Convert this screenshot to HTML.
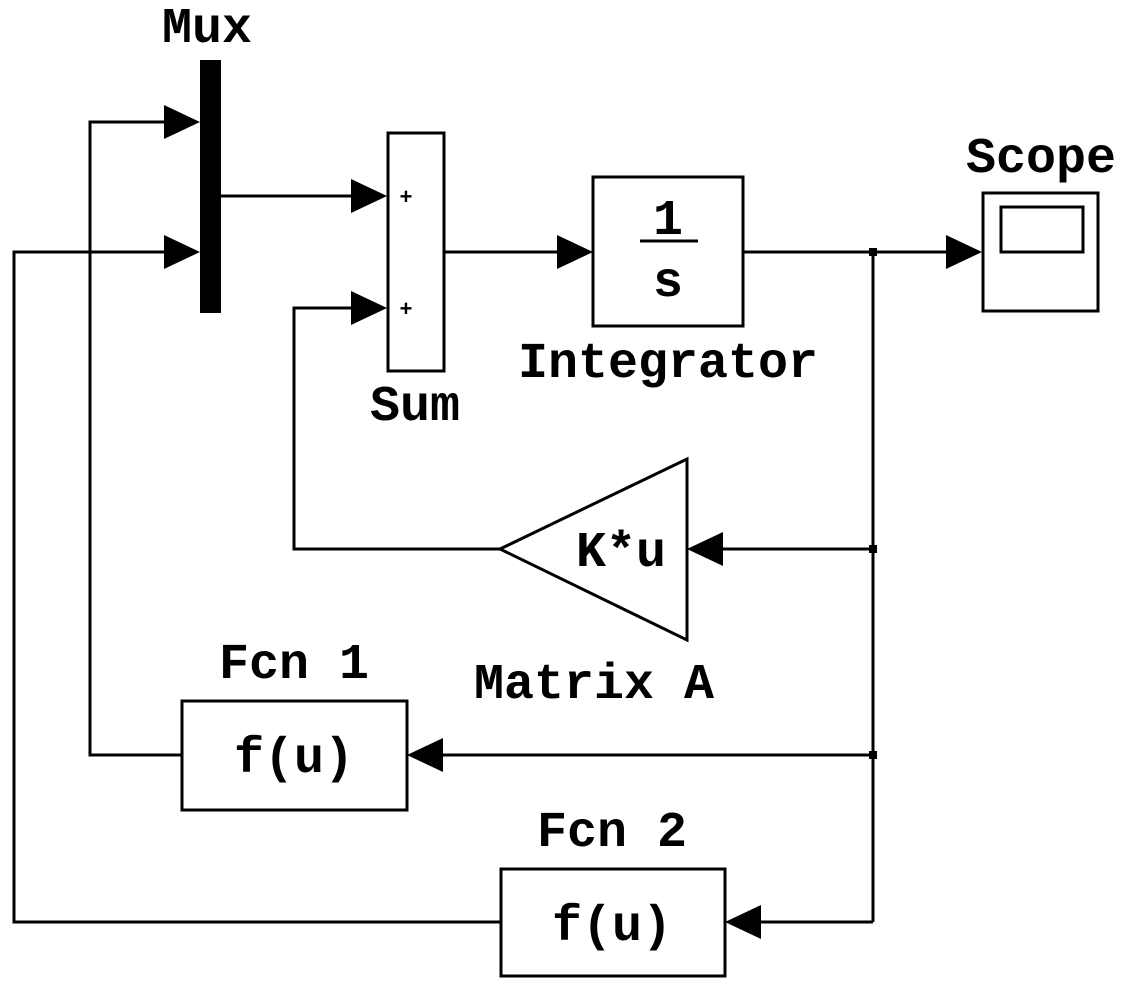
<!DOCTYPE html>
<html><head><meta charset="utf-8"><style>
html,body{margin:0;padding:0;background:#fff;}
svg text{font-family:"Liberation Mono","Courier New",monospace;font-weight:bold;fill:#000;}
</style></head><body>
<svg width="1126" height="991" viewBox="0 0 1126 991" xmlns="http://www.w3.org/2000/svg">
<g stroke="#000" stroke-width="3" fill="none">
<!-- Mux input wires -->
<polyline points="181,755 90,755 90,122 166,122"/>
<polyline points="500,922 14,922 14,252 166,252"/>
<!-- Mux out -->
<line x1="221" y1="196" x2="354" y2="196"/>
<!-- Sum second input -->
<polyline points="500,549 294,549 294,308 354,308"/>
<!-- Sum out -->
<line x1="444" y1="252" x2="560" y2="252"/>
<!-- Integrator out -->
<line x1="743" y1="252" x2="950" y2="252"/>
<line x1="873" y1="252" x2="873" y2="922"/>
<line x1="873" y1="549" x2="720" y2="549"/>
<line x1="873" y1="755" x2="440" y2="755"/>
<line x1="873" y1="922" x2="758" y2="922"/>
<!-- Blocks -->
<rect x="388" y="133" width="56" height="238"/>
<rect x="593" y="177" width="150" height="149"/>
<rect x="983" y="193" width="115" height="118"/>
<rect x="1001" y="207" width="82" height="45"/>
<polygon points="500,549 687,459 687,640"/>
<rect x="182" y="701" width="225" height="109"/>
<rect x="501" y="869" width="224" height="107"/>
<line x1="640" y1="241" x2="698" y2="241"/>
</g>
<rect x="200" y="60" width="21" height="253" fill="#000"/>
<g fill="#000">
<rect x="869" y="248" width="8" height="8"/>
<rect x="869" y="545" width="8" height="8"/>
<rect x="869" y="751" width="8" height="8"/>
<!-- arrowheads -->
<polygon points="164,105 200,122 164,139"/>
<polygon points="164,235 200,252 164,269"/>
<polygon points="351,179 387,196 351,213"/>
<polygon points="351,291 387,308 351,325"/>
<polygon points="557,235 593,252 557,269"/>
<polygon points="946,235 982,252 946,269"/>
<polygon points="723,532 687,549 723,566"/>
<polygon points="443,738 407,755 443,772"/>
<polygon points="761,905 725,922 761,939"/>
</g>
<g font-size="50" text-anchor="middle">
<text x="207" y="42">Mux</text>
<text x="415" y="420">Sum</text>
<text x="668" y="377">Integrator</text>
<text x="1041" y="172">Scope</text>
<text x="594" y="698">Matrix A</text>
<text x="294" y="678">Fcn 1</text>
<text x="612" y="846">Fcn 2</text>
<text x="621" y="566">K*u</text>
<text x="294" y="772">f(u)</text>
<text x="612" y="940">f(u)</text>
<text x="668" y="234">1</text>
<text x="668" y="296">s</text>
</g>
<g font-size="22" text-anchor="middle">
<text x="406" y="204">+</text>
<text x="406" y="316">+</text>
</g>
</svg>
</body></html>
